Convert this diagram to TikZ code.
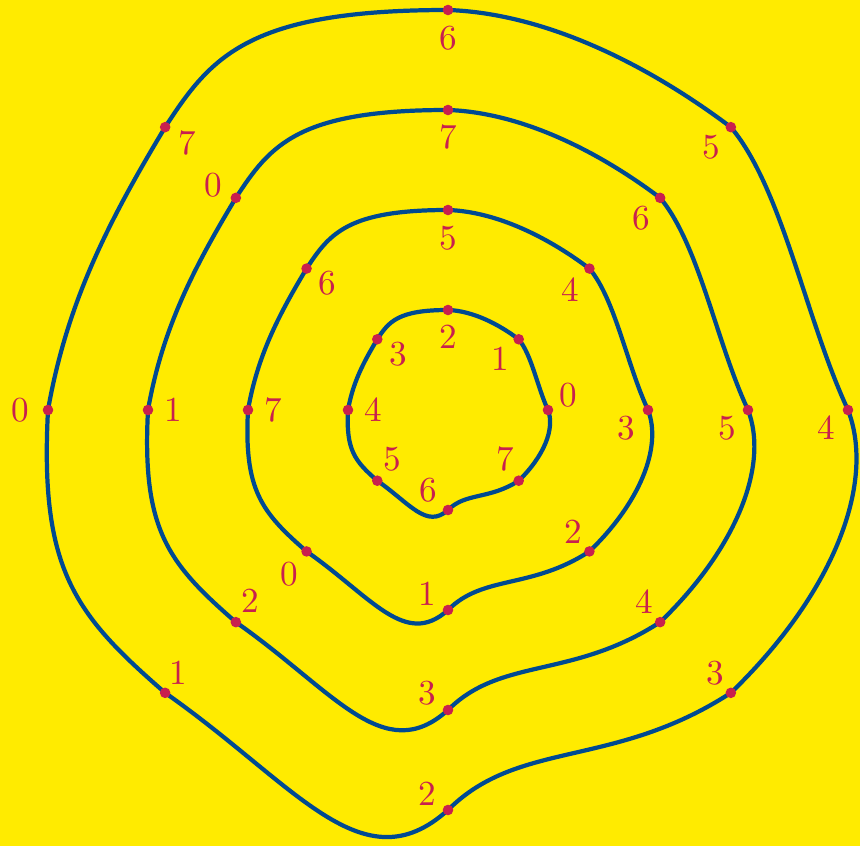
\documentclass[tikz,border=0pt]{standalone}
\definecolor{bgyellow}{RGB}{255,235,0}
\definecolor{lineblue}{RGB}{0,74,145}
\definecolor{dotred}{RGB}{200,32,78}
\tikzset{
  contour/.style={draw=lineblue, line width=1.2pt, line join=round},
  dotnode/.style={circle, fill=dotred, inner sep=0pt, minimum size=0.106cm},
  numlabel/.style={text=dotred, inner sep=0pt, font=\normalsize}
}
\newcommand\blobcurve[2]{%
  \foreach \i in {0,...,7} {\coordinate (#1-\i) at (\i*45:#2);}
  \draw[contour] (#1-0)
    .. controls +(115:{0.25*#2}) and +(310:{0.2*#2}) .. (#1-1)
    .. controls +(143:{0.25*#2}) and +(358:{0.25*#2}) .. (#1-2)
    .. controls +(180:{0.5*#2}) and +(57:{0.21*#2}) .. (#1-3)
    .. controls +(239:{0.275*#2}) and +(80:{0.275*#2}) .. (#1-4)
    .. controls +(267:{0.4*#2}) and +(139:{0.3*#2}) .. (#1-5)
    .. controls +(325:{0.4*#2}) and +(222:{0.2875*#2}) .. (#1-6)
    .. controls +(45:{0.25*#2}) and +(213:{0.35*#2}) .. (#1-7)
    .. controls +(44:{0.35*#2}) and +(291:{0.2*#2}) .. cycle;
  \foreach \i in {0,...,7} {\node[dotnode] (#1-dot-\i) at (#1-\i) {};}
}
\newcommand\numlab[4]{\path (#1) ++(#3,#4) node[numlabel] (#1-lab) {#2};}
\begin{document}
\begin{tikzpicture}
\fill[bgyellow] (-4.48,-4.36) rectangle (4.12,4.10);
\useasboundingbox (-4.48,-4.36) rectangle (4.12,4.10);

\blobcurve{A}{1}
\blobcurve{B}{2}
\blobcurve{C}{3}
\blobcurve{D}{4}

% inner curve
\numlab{A-0}{0}{0.20}{0.15}
\numlab{A-1}{1}{-0.18}{-0.20}
\numlab{A-2}{2}{0}{-0.27}
\numlab{A-3}{3}{0.21}{-0.15}
\numlab{A-4}{4}{0.25}{0}
\numlab{A-5}{5}{0.15}{0.22}
\numlab{A-6}{6}{-0.20}{0.20}
\numlab{A-7}{7}{-0.13}{0.22}
% second curve
\numlab{B-0}{3}{-0.22}{-0.18}
\numlab{B-1}{4}{-0.19}{-0.21}
\numlab{B-2}{5}{0}{-0.28}
\numlab{B-3}{6}{0.21}{-0.15}
\numlab{B-4}{7}{0.25}{0}
\numlab{B-5}{0}{-0.17}{-0.23}
\numlab{B-6}{1}{-0.21}{0.16}
\numlab{B-7}{2}{-0.16}{0.20}
% third curve
\numlab{C-0}{5}{-0.21}{-0.18}
\numlab{C-1}{6}{-0.19}{-0.20}
\numlab{C-2}{7}{0}{-0.27}
\numlab{C-3}{0}{-0.23}{0.13}
\numlab{C-4}{1}{0.25}{0}
\numlab{C-5}{2}{0.14}{0.21}
\numlab{C-6}{3}{-0.21}{0.17}
\numlab{C-7}{4}{-0.16}{0.21}
% outer curve
\numlab{D-0}{4}{-0.22}{-0.18}
\numlab{D-1}{5}{-0.20}{-0.20}
\numlab{D-2}{6}{0}{-0.28}
\numlab{D-3}{7}{0.22}{-0.16}
\numlab{D-4}{0}{-0.28}{0}
\numlab{D-5}{1}{0.13}{0.20}
\numlab{D-6}{2}{-0.21}{0.16}
\numlab{D-7}{3}{-0.16}{0.20}
\end{tikzpicture}
\end{document}
